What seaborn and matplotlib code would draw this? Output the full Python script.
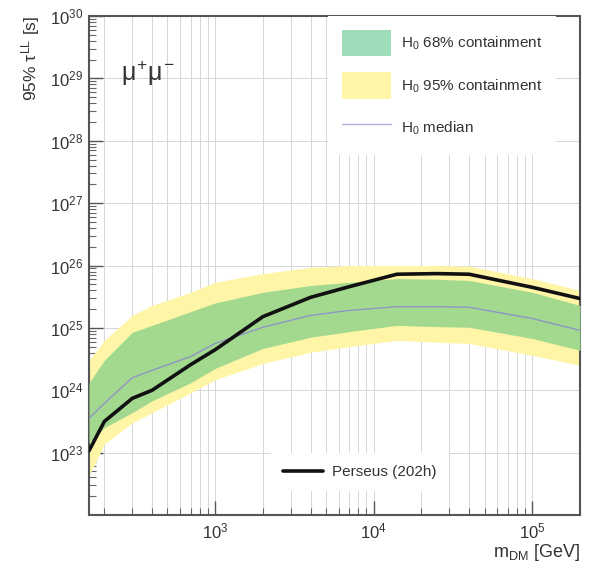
import numpy as np
import pandas as pd
import matplotlib
matplotlib.use("Agg")
import matplotlib.pyplot as plt
from matplotlib.patches import Patch
from matplotlib.lines import Line2D
from matplotlib.ticker import LogLocator, NullFormatter, FixedLocator
import seaborn as sns

# ---- data ----
mass = [160, 200, 300, 400, 700, 1000, 2000, 4000, 7000, 14000, 25000, 40000, 100000, 200000]
log_observed = [23.03, 23.50, 23.87, 24.00, 24.41, 24.65, 25.18, 25.49, 25.66, 25.86, 25.87, 25.86, 25.65, 25.47]
log_median = [23.55, 23.79, 24.20, 24.32, 24.54, 24.75, 25.01, 25.20, 25.28, 25.34, 25.34, 25.33, 25.15, 24.96]
log_68_up = [24.12, 24.48, 24.93, 25.04, 25.26, 25.40, 25.57, 25.68, 25.73, 25.79, 25.78, 25.76, 25.57, 25.36]
log_68_lo = [23.16, 23.40, 23.64, 23.83, 24.12, 24.35, 24.67, 24.85, 24.94, 25.04, 25.02, 25.01, 24.83, 24.64]
log_95_up = [24.48, 24.80, 25.20, 25.36, 25.57, 25.73, 25.87, 25.97, 26.00, 26.00, 26.00, 25.99, 25.79, 25.60]
log_95_lo = [22.63, 23.14, 23.48, 23.64, 23.96, 24.17, 24.43, 24.61, 24.70, 24.80, 24.77, 24.75, 24.56, 24.40]

x_tick_values = [1e3, 1e4, 1e5]
y_tick_values = [1e23, 1e24, 1e25, 1e26, 1e27, 1e28, 1e29, 1e30]

legend_labels = [r"H$_0$ 68% containment", r"H$_0$ 95% containment", r"H$_0$ median"]
observed_label = "Perseus (202h)"
channel_label = r"$\mu^{+}\mu^{-}$"

df = pd.DataFrame({
    "mass": mass,
    "observed": np.power(10.0, log_observed),
    "median": np.power(10.0, log_median),
    "up68": np.power(10.0, log_68_up),
    "lo68": np.power(10.0, log_68_lo),
    "up95": np.power(10.0, log_95_up),
    "lo95": np.power(10.0, log_95_lo),
})

sns.set_style("white")
plt.rcParams["font.family"] = ["Liberation Sans", "DejaVu Sans"]
plt.rcParams["mathtext.fontset"] = "custom"
plt.rcParams["mathtext.rm"] = "Liberation Sans"
plt.rcParams["mathtext.it"] = "Liberation Sans"
plt.rcParams["mathtext.bf"] = "Liberation Sans:bold"

fig = plt.figure(figsize=(5.98, 5.69), dpi=100)
ax = fig.add_axes([89 / 598, 1 - 515 / 569, 491 / 598, 499 / 569])
ax.set_xscale("log")
ax.set_yscale("log")

col95 = "#fff5a6"
col68 = "#a3d98f"
col68_leg = "#9fdcb9"
colmed = "#8f95c4"

ax.fill_between(df["mass"], df["lo95"], df["up95"], color=col95, lw=0, zorder=2)
ax.fill_between(df["mass"], df["lo68"], df["up68"], color=col68, lw=0, zorder=3)
sns.lineplot(data=df, x="mass", y="median", ax=ax, color=colmed, lw=1.0,
             estimator=None, sort=False, zorder=4, legend=False)
sns.lineplot(data=df, x="mass", y="observed", ax=ax, color="#111111", lw=2.6,
             estimator=None, sort=False, zorder=5, legend=False)

ax.set_xlim(160, 2e5)
ax.set_ylim(1e22, 1e30)

# ticks
ax.xaxis.set_major_locator(FixedLocator(x_tick_values))
ax.xaxis.set_minor_locator(LogLocator(base=10, subs=np.arange(2, 10), numticks=50))
ax.xaxis.set_minor_formatter(NullFormatter())
ax.yaxis.set_major_locator(FixedLocator(y_tick_values))
ax.yaxis.set_minor_locator(LogLocator(base=10, subs=np.arange(2, 10), numticks=50))
ax.yaxis.set_minor_formatter(NullFormatter())
ax.tick_params(axis="both", which="major", direction="in", length=10, width=1.0,
               color="#555555", labelsize=12, labelcolor="#333333", pad=5,
               bottom=True, left=True, top=False, right=False)
ax.tick_params(axis="both", which="minor", direction="in", length=5, width=0.8,
               color="#666666", bottom=True, left=True, top=False, right=False)
ax.tick_params(axis="y", which="major", pad=4)

# grid
ax.grid(True, which="major", axis="both", color="#d6d6d6", lw=0.7, zorder=1)
ax.grid(True, which="minor", axis="x", color="#d6d6d6", lw=0.7, zorder=1)
ax.set_axisbelow(True)

for s in ax.spines.values():
    s.set_color("#555555")
    s.set_linewidth(1.5)

ax.set_xlabel(r"m$_{\rm DM}$ [GeV]", loc="right", fontsize=13, color="#333333", labelpad=0)
ax.set_ylabel(r"95% $\tau^{\rm LL}$ [s]", loc="top", fontsize=12.5, color="#333333", labelpad=6)

ax.text(0.065, 0.885, channel_label, transform=ax.transAxes, fontsize=18,
        color="#333333", ha="left", va="center")

# legends
h1 = [Patch(facecolor=col68_leg, edgecolor="none"),
      Patch(facecolor=col95, edgecolor="none"),
      Line2D([0], [0], color="#b0b0e0", lw=1.0)]
leg1 = ax.legend(h1, legend_labels, loc="upper left", bbox_to_anchor=(0.487, 1.0),
                 fontsize=11, frameon=True, facecolor="white", edgecolor="none",
                 framealpha=1, fancybox=False, handlelength=3.2, handleheight=2.3,
                 labelspacing=1.05, handletextpad=0.65, borderpad=0.9,
                 borderaxespad=0)
for t in leg1.get_texts():
    t.set_color("#333333")
leg1.set_zorder(6)
ax.add_artist(leg1)

h2 = [Line2D([0], [0], color="#111111", lw=2.6)]
leg2 = ax.legend(h2, [observed_label], loc="center left", bbox_to_anchor=(0.37, 0.086),
                 fontsize=11, frameon=True, facecolor="white", edgecolor="none",
                 framealpha=1, fancybox=False, handlelength=2.6, handletextpad=0.6,
                 borderpad=0.8, borderaxespad=0)
for t in leg2.get_texts():
    t.set_color("#333333")
leg2.set_zorder(6)

fig.savefig("out.png", dpi=100, facecolor="white")
